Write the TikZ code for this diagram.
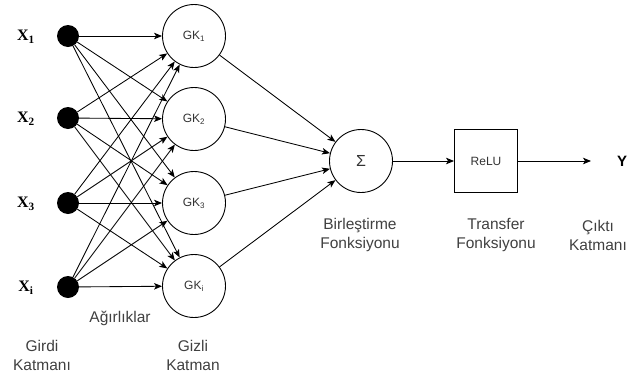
\documentclass[tikz,border=0pt]{standalone}
\usepackage{fontspec}
\setmainfont{Liberation Sans}
\newfontfamily\serifb{Liberation Serif}
\usetikzlibrary{arrows.meta}
\begin{document}
\begin{tikzpicture}[x=1pt,y=-1pt,
  inp/.style={circle,fill=black,minimum size=22pt,inner sep=0pt},
  hid/.style={circle,draw,line width=0.9pt,minimum size=63pt,inner sep=0pt,font=\fontsize{12}{14}\selectfont,text=black!80},
  lbl/.style={font=\fontsize{15.5}{19}\selectfont,text=black!75,align=center},
  xl/.style={font=\serifb\bfseries\fontsize{16}{18}\selectfont},
  arr/.style={line width=0.85pt,-{Stealth[length=8pt,width=6.5pt,inset=2pt]}}]
\useasboundingbox (0,0) rectangle (629,378);
% input nodes
\node[inp] (x1) at (68,36) {};
\node[inp] (x2) at (68,118) {};
\node[inp] (x3) at (68,203) {};
\node[inp] (xi) at (68,287) {};
\node[xl] at (26,37) {X\textsubscript{1}};
\node[xl] at (26,119) {X\textsubscript{2}};
\node[xl] at (26,204) {X\textsubscript{3}};
\node[xl] at (26,288) {X\textsubscript{i}};
% hidden nodes
\node[hid] (g1) at (194,36) {GK\textsubscript{1}};
\node[hid] (g2) at (194,119) {GK\textsubscript{2}};
\node[hid] (g3) at (194,203) {GK\textsubscript{3}};
\node[hid] (gi) at (194,286) {GK\textsubscript{i}};
% sum, relu
\node[hid,font=\fontsize{16}{18}\selectfont] (s) at (361,161) {Σ};
\node[draw,line width=0.9pt,minimum width=63pt,minimum height=63pt,inner sep=0pt,text=black!80,font=\fontsize{12}{14}\selectfont] (r) at (486,161) {ReLU};
\coordinate (yend) at (591,161);
\node[font=\bfseries\fontsize{15}{17}\selectfont] (y) at (622,161) {Y};
% connections
\foreach \a in {x1,x2,x3,xi}{
  \foreach \b in {g1,g2,g3,gi}{
    \draw[arr] (\a) -- (\b);
  }
}
\foreach \b in {g1,g2,g3,gi}{
  \draw[arr] (\b) -- (s);
}
\draw[arr] (s) -- (r);
\draw[arr] (r) -- (yend);
% labels
\node[lbl] at (120,318) {Ağırlıklar};
\node[lbl] at (42,355) {Girdi\\Katmanı};
\node[lbl] at (193,355) {Gizli\\Katman};
\node[lbl] at (360,235) {Birleştirme\\Fonksiyonu};
\node[lbl] at (496,235) {Transfer\\Fonksiyonu};
\node[lbl] at (598,235) {Çıktı\\Katmanı};
\end{tikzpicture}
\end{document}
